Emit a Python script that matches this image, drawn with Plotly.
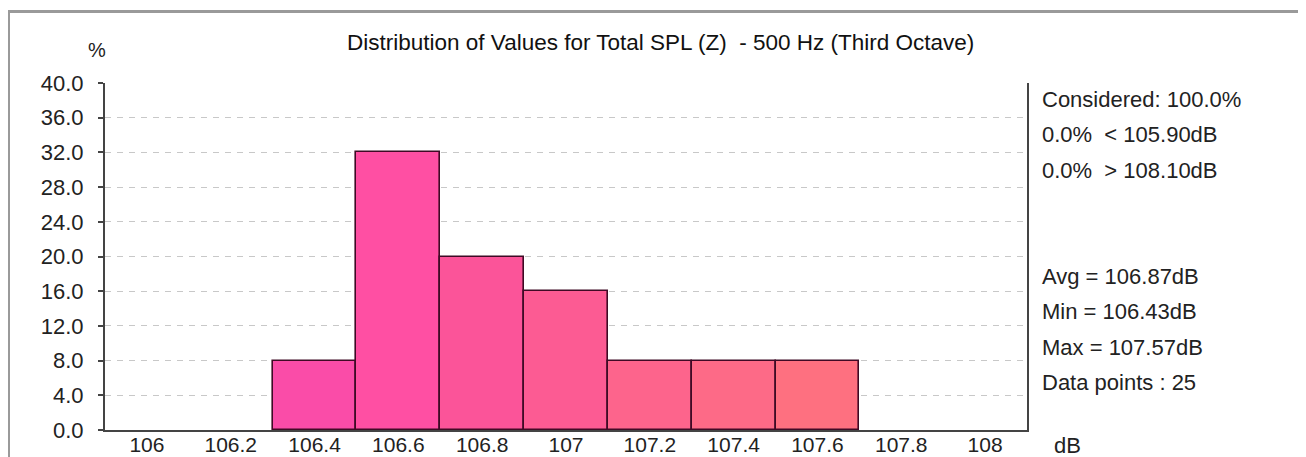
import plotly.graph_objects as go

# ---- data ----
bins = ["106", "106.2", "106.4", "106.6", "106.8", "107", "107.2", "107.4", "107.6", "107.8", "108"]
percent = [0, 0, 8, 32, 20, 16, 8, 8, 8, 0, 0]
bar_colors = ["#F94BAA", "#F94BAA", "#FA4CA8", "#FF4FA3", "#FB5499", "#FC5B93",
              "#FD648C", "#FD6A87", "#FE7080", "#FE7080", "#FE7080"]
y_ticks = [0, 4, 8, 12, 16, 20, 24, 28, 32, 36, 40]
y_tick_text = ["%.1f" % v for v in y_ticks]
title_text = "Distribution of Values for Total SPL (Z)  - 500 Hz (Third Octave)"
stats_top = ["Considered: 100.0%", "0.0%  < 105.90dB", "0.0%  > 108.10dB"]
stats_bottom = ["Avg = 106.87dB", "Min = 106.43dB", "Max = 107.57dB", "Data points : 25"]

# screen geometry (page body has an 8px margin)
OFF = 8
FIG_W, FIG_H = 1298, 449
L, R, T, B = 105, 1027, 83, 430   # plot area on screen
FONT = "Liberation Sans"
FS = 22


def px(x):
    return (x - L) / (R - L)


def py(y):
    return (B - y) / (B - T)


line_widths = [1.6 if v > 0 else 0 for v in percent]

fig = go.Figure()
fig.add_trace(go.Bar(
    x=bins, y=percent, width=1.0,
    marker=dict(color=bar_colors, line=dict(color="#3f0a25", width=line_widths)),
    hoverinfo="x+y",
))

annotations = []
annotations.append(dict(text=title_text, x=px(660), y=py(43), xref="paper", yref="paper",
                        showarrow=False, xanchor="center", yanchor="middle",
                        font=dict(family=FONT, size=22.5, color="#111")))
annotations.append(dict(text="%", x=px(97), y=py(50), xref="paper", yref="paper",
                        showarrow=False, xanchor="center", yanchor="middle",
                        font=dict(family=FONT, size=FS - 2, color="#222")))
annotations.append(dict(text="dB", x=px(1067), y=py(445), xref="paper", yref="paper",
                        showarrow=False, xanchor="center", yanchor="middle",
                        font=dict(family=FONT, size=FS, color="#222")))
for i, s in enumerate(stats_top):
    annotations.append(dict(text=s, x=px(1040), y=py(100 + 35 * i), xref="paper", yref="paper",
                            showarrow=False, xanchor="left", yanchor="middle",
                            font=dict(family=FONT, size=FS, color="#222")))
for i, s in enumerate(stats_bottom):
    annotations.append(dict(text=s, x=px(1040), y=py(276 + 35.5 * i), xref="paper", yref="paper",
                            showarrow=False, xanchor="left", yanchor="middle",
                            font=dict(family=FONT, size=FS, color="#222")))

shapes = [
    # outer window frame
    dict(type="rect", xref="paper", yref="paper",
         x0=px(8.5), x1=px(1304), y0=py(490), y1=py(11.5),
         line=dict(color="#9a9a9a", width=3), fillcolor="rgba(0,0,0,0)", layer="below"),
]

fig.update_layout(
    width=FIG_W, height=FIG_H, autosize=False,
    margin=dict(l=L - OFF, r=FIG_W - (R - OFF), t=T - OFF, b=FIG_H - (B - OFF), pad=0),
    paper_bgcolor="white", plot_bgcolor="white",
    showlegend=False, bargap=0,
    annotations=annotations, shapes=shapes,
    font=dict(family=FONT, size=FS, color="#222"),
)
fig.update_xaxes(
    type="category", categoryorder="array", categoryarray=bins,
    range=[-0.5, len(bins) - 0.5], automargin=False,
    showline=True, linecolor="#444", linewidth=2, mirror=False,
    showgrid=False, ticks="", zeroline=False,
    ticklabelstandoff=-5,
    tickfont=dict(family=FONT, size=21, color="#222"),
)
fig.update_yaxes(
    range=[0, 40], tickmode="array", tickvals=y_ticks, ticktext=y_tick_text,
    automargin=False,
    showline=True, linecolor="#444", linewidth=2, mirror=True,
    ticks="outside", ticklen=5, tickcolor="#444", tickwidth=1.5,
    ticklabelstandoff=10,
    showgrid=True, gridcolor="#c8c8c8", gridwidth=1.3, griddash="6px,6px",
    zeroline=False,
    tickfont=dict(family=FONT, size=FS, color="#222"),
)

fig.write_html("out.html")
